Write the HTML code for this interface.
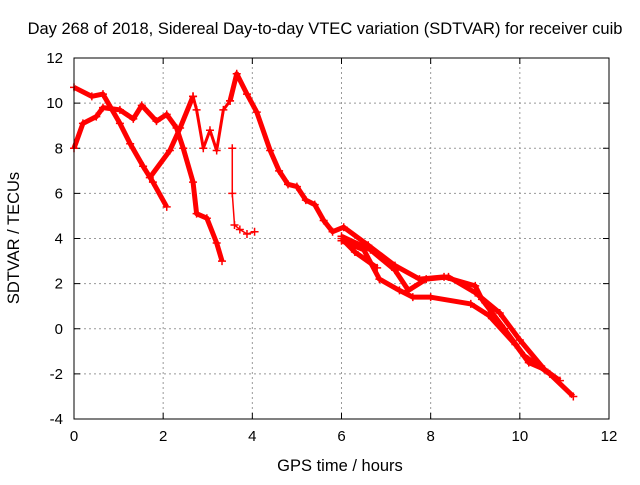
<!DOCTYPE html>
<html><head><meta charset="utf-8"><style>
body{margin:0;background:#fff;}
svg text{font-family:"Liberation Sans",sans-serif;font-size:15px;fill:#000;}
svg text.big{font-size:16.5px;}
</style></head><body>
<svg id="chart" width="640" height="480" xmlns="http://www.w3.org/2000/svg">
<rect width="640" height="480" fill="#fff"/>
<text class="big" x="325" y="34" text-anchor="middle">Day 268 of 2018, Sidereal Day-to-day VTEC variation (SDTVAR) for receiver cuib</text>
<text class="big" x="340" y="471" text-anchor="middle">GPS time / hours</text>
<text class="big" x="0" y="0" text-anchor="middle" transform="translate(19,238) rotate(-90)">SDTVAR / TECUs</text>
<g id="grid"></g>
<g id="ticks"></g>
<g id="marks"></g>
<rect x="74" y="58" width="535" height="361" fill="none" stroke="#000" stroke-width="1"/>
</svg>
<script>
const xTicks=[0,2,4,6,8,10,12];
const yTicks=[-4,-2,0,2,4,6,8,10,12];
const trackA_t=[0,0.4,0.65,1.03,1.26,1.55,1.77,2.08];
const trackA_v=[10.7,10.3,10.4,9.1,8.2,7.2,6.5,5.4];
const trackB_t=[0,0.2,0.5,0.65,1.03,1.33,1.52,1.85,2.08,2.3,2.45,2.67,2.75,2.98,3.2,3.32];
const trackB_v=[8.0,9.1,9.4,9.8,9.7,9.3,9.9,9.2,9.5,8.9,8.0,6.5,5.1,4.9,3.8,3.0];
const trackC1_t=[1.7,2.15,2.38,2.67];
const trackC1_v=[6.7,7.9,8.9,10.3];
const trackC2_t=[2.67,2.75,2.9,3.05,3.2,3.35,3.5];
const trackC2_v=[10.3,9.7,8.0,8.8,7.9,9.7,10.1];
const trackC3_t=[3.5,3.65,3.88,4.1,4.4,4.6,4.8,5.0,5.2,5.4,5.6,5.8,6.05,6.6,7.2,7.75,8.3,9.0,9.15,9.65,10.1,10.67,11.2];
const trackC3_v=[10.1,11.3,10.4,9.6,7.9,7.0,6.4,6.3,5.7,5.5,4.8,4.3,4.5,3.7,2.8,2.2,2.3,1.9,1.3,0.0,-1.2,-2.0,-3.0];
const trackD_t=[3.55,3.55,3.6,3.72,3.88,4.05];
const trackD_v=[8.0,6.0,4.6,4.4,4.2,4.3];
const trackE_t=[6.0,6.5,6.85,7.3,7.6,8.0,8.9,9.3,9.9,10.2,10.55,10.9];
const trackE_v=[3.9,3.5,2.2,1.7,1.4,1.4,1.1,0.6,-0.7,-1.5,-1.8,-2.3];
const trackF_t=[6.0,6.65,7.2,7.5,7.9,8.4,9.0,9.55,10.0,10.55];
const trackF_v=[4.1,3.5,2.6,1.7,2.2,2.3,1.6,0.7,-0.5,-1.8];
const trackG_t=[6.0,6.3,6.8];
const trackG_v=[4.0,3.4,2.7];
const tracks=[[trackA_t,trackA_v,5],[trackB_t,trackB_v,5],[trackC1_t,trackC1_v,5],[trackC2_t,trackC2_v,3],[trackC3_t,trackC3_v,5],[trackD_t,trackD_v,1.5],[trackE_t,trackE_v,5],[trackF_t,trackF_v,5],[trackG_t,trackG_v,5]];

const X0=74,X1=609,Y0=419,Y1=58;
const sx=t=>X0+(t-0)/(12-0)*(X1-X0);
const sy=v=>Y0-(v+4)/(16)*(Y0-Y1);
const NS="http://www.w3.org/2000/svg";
const grid=document.getElementById('grid'),ticks=document.getElementById('ticks'),marks=document.getElementById('marks');
function mk(tag,attrs,parent){const e=document.createElementNS(NS,tag);for(const k in attrs)e.setAttribute(k,attrs[k]);parent.appendChild(e);return e;}
xTicks.forEach(t=>{
  const x=sx(t);
  if(t>0&&t<12){const g=mk('line',{x1:x,x2:x,y1:Y0,y2:Y1,stroke:'#999','stroke-dasharray':'2,3'},grid);
  
  }
  mk('line',{x1:x,x2:x,y1:Y0,y2:Y0-6,stroke:'#000'},ticks);
  mk('line',{x1:x,x2:x,y1:Y1,y2:Y1+6,stroke:'#000'},ticks);
  const l=mk('text',{x:x,y:Y0+22,'text-anchor':'middle'},ticks);l.textContent=t;
  
  
});
yTicks.forEach(v=>{
  const y=sy(v);
  if(v>-4&&v<12){const g=mk('line',{x1:X0,x2:X1,y1:y,y2:y,stroke:'#999','stroke-dasharray':'2,3'},grid);
  
  }
  mk('line',{x1:X0,x2:X0+6,y1:y,y2:y,stroke:'#000'},ticks);
  mk('line',{x1:X1,x2:X1-6,y1:y,y2:y,stroke:'#000'},ticks);
  const l=mk('text',{x:X0-11,y:y+5,'text-anchor':'end'},ticks);l.textContent=v;
  
  
});
tracks.forEach(([ts,vs,w])=>{
  const pts=ts.map((t,j)=>sx(t)+','+sy(vs[j])).join(' ');
  const pl=mk('polyline',{points:pts,fill:'none',stroke:'#f00','stroke-width':w,'stroke-linejoin':'round'},marks);
  
  
  ts.forEach((t,j)=>{
    const x=sx(t),y=sy(vs[j]);
    const p=mk('path',{d:`M${x-4},${y}H${x+4}M${x},${y-4}V${y+4}`,stroke:'#f00','stroke-width':1.5},marks);
    
    
  });
});
</script>
</body></html>
